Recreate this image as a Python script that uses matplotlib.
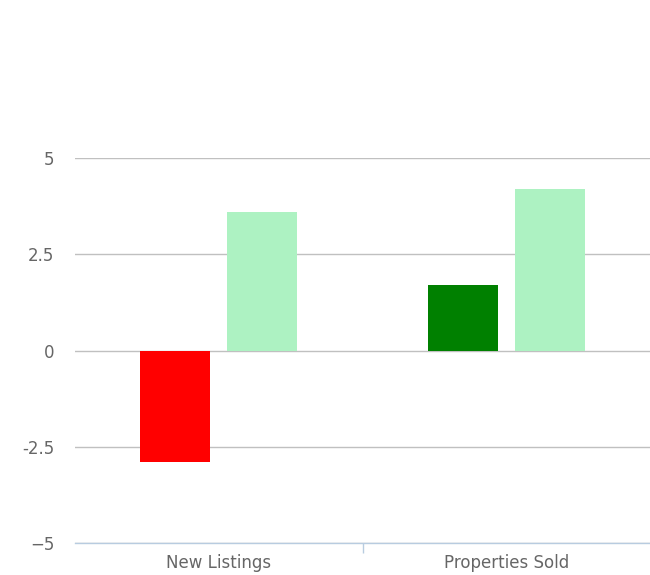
import matplotlib.pyplot as plt
import numpy as np

categories = ['New Listings', 'Properties Sold']
change_values = [-2.9, 1.7]
change_colors = ['#ff0000', '#008000']
other_values = [3.6, 4.2]
other_color = '#adf2c2'
y_ticks = [-5, -2.5, 0, 2.5, 5]
y_tick_labels = ['\u22125', '-2.5', '0', '2.5', '5']

fig = plt.figure(figsize=(6.5, 5.75), dpi=100)
ax = fig.add_axes([75 / 650, 1 - 543 / 575, 575 / 650, 385 / 575])

x = np.arange(len(categories))
width = 0.243
gap = 0.06
ax.bar(x - (width + gap) / 2, change_values, width, color=change_colors, zorder=3)
ax.bar(x + (width + gap) / 2, other_values, width, color=other_color, zorder=3)

ax.set_xlim(-0.5, len(categories) - 0.5)
ax.set_ylim(-5, 5)
ax.set_yticks(y_ticks)
ax.set_yticklabels(y_tick_labels)
ax.yaxis.grid(True, color='#c0c0c0', linewidth=1)
ax.set_axisbelow(True)

ax.set_xticks(x)
ax.set_xticklabels(categories)
ax.set_xticks([0.5], minor=True)
ax.tick_params(axis='x', which='major', length=0, pad=8, labelsize=12, labelcolor='#666666')
ax.tick_params(axis='x', which='minor', length=7, width=1, color='#b8cce0', direction='out')
ax.tick_params(axis='y', length=0, pad=15, labelsize=12, labelcolor='#666666')

for side in ['top', 'right', 'left']:
    ax.spines[side].set_visible(False)
ax.spines['bottom'].set_color('#b8cce0')
ax.spines['bottom'].set_linewidth(1)
ax.spines['bottom'].set_zorder(4)
ax.set_facecolor('white')

fig.savefig('out.png', dpi=100)
